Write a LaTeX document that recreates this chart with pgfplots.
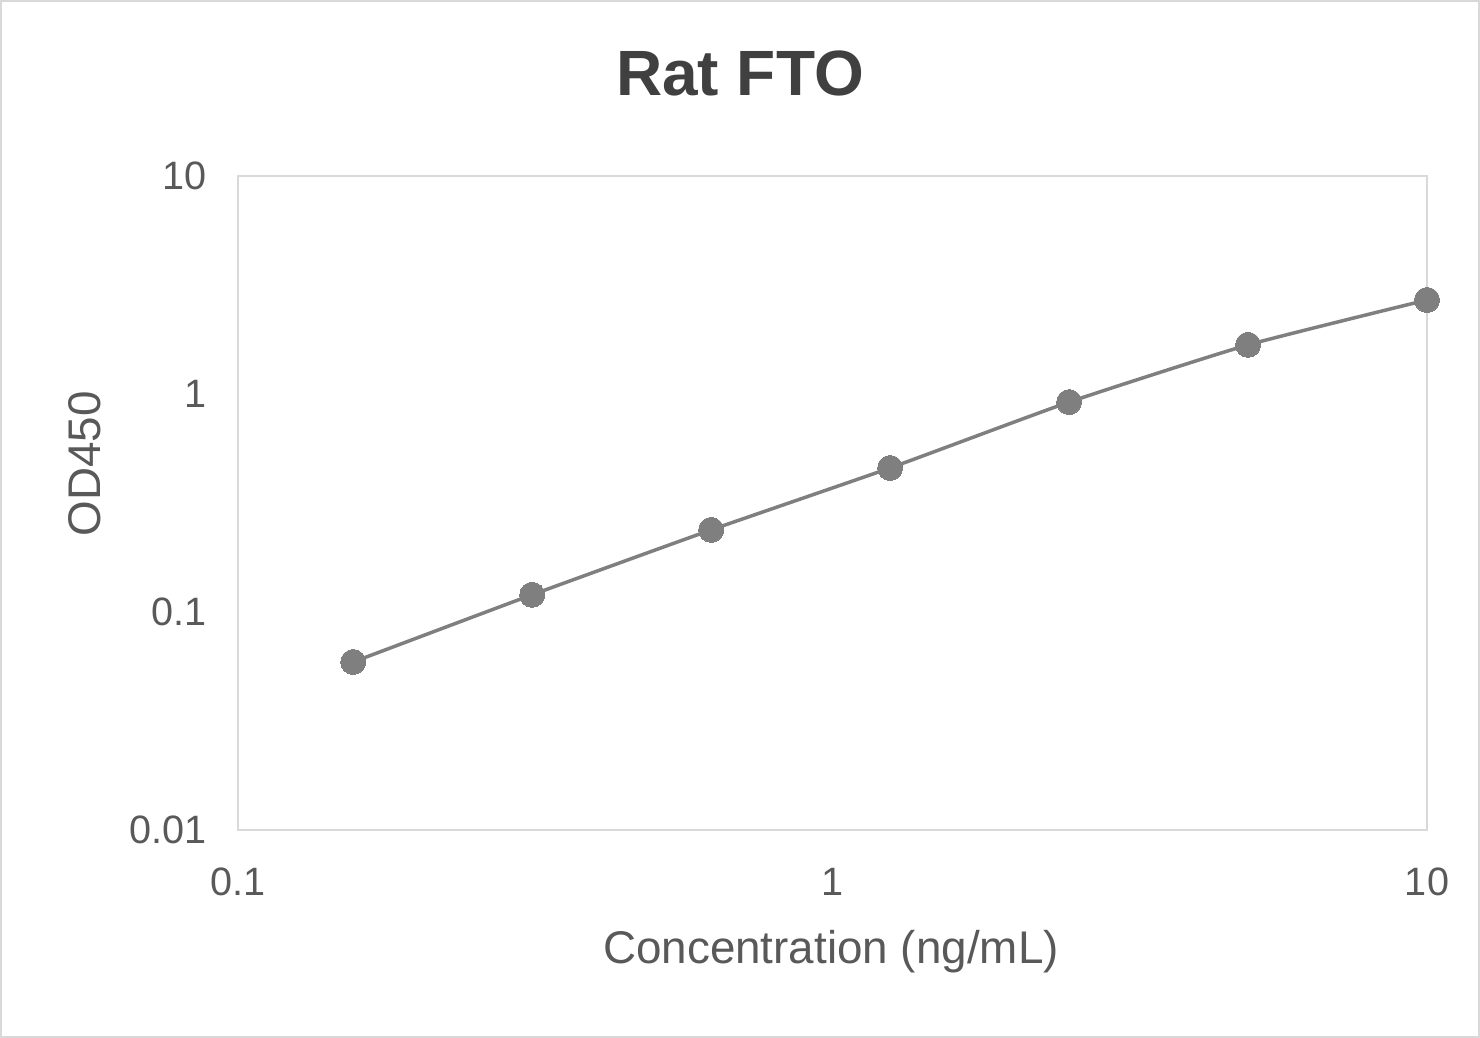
\documentclass[border=0pt]{standalone}
\usepackage{pgfplots}
\pgfplotsset{compat=1.18}
\usepackage{fontspec}
\setmainfont{Liberation Sans}
\definecolor{txt}{HTML}{595959}
\definecolor{ttl}{HTML}{404040}
\definecolor{frame}{HTML}{D9D9D9}
\definecolor{ser}{HTML}{7F7F7F}
\begin{document}
\begin{tikzpicture}
% page outline
\draw[frame, line width=1bp] (0.5bp,0.5bp) rectangle (739.5bp,518.5bp);
\begin{axis}[
  at={(119bp,104bp)}, anchor=south west,
  scale only axis,
  width=594.5bp, height=327bp,
  xmode=log, ymode=log,
  xmin=0.1, xmax=10,
  ymin=0.01, ymax=10,
  xtick={0.1,1,10}, xticklabels={0.1,1,10},
  ytick={0.01,0.1,1,10}, yticklabels={0.01,0.1,1,10},
  major tick length=0pt, minor tick length=0pt,
  axis line style={frame, line width=1.2bp},
  tick label style={text=txt, font=\fontsize{19.8bp}{22bp}\selectfont, inner sep=0pt},
  xticklabel style={anchor=center, yshift=-26bp},
  yticklabel style={anchor=east, xshift=-15.5bp},
  clip=false,
]
\addplot[ser, line width=1.75bp, smooth, tension=0.3,
  mark=*, mark size=6.25bp, mark options={fill=ser, draw=ser, line width=0pt}]
  coordinates {(0.15625,0.059) (0.3125,0.120) (0.625,0.238) (1.25,0.458)
               (2.5,0.918) (5,1.68) (10,2.70)};
\end{axis}
\node[text=ttl, font=\fontsize{32bp}{37bp}\selectfont\bfseries] at (370bp,482.5bp) {Rat FTO};
\node[text=txt, font=\fontsize{22.9bp}{26bp}\selectfont] at (415.5bp,43bp) {Concentration (ng/mL)};
\node[text=txt, font=\fontsize{22.9bp}{26bp}\selectfont, rotate=90] at (42.5bp,287bp) {OD450};
\end{tikzpicture}
\end{document}
